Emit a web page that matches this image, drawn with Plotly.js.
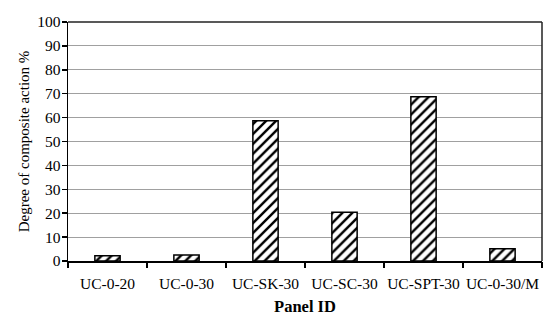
<!DOCTYPE html>
<html>
<head>
<meta charset="utf-8">
<script src="https://cdn.plot.ly/plotly-3.0.1.min.js"></script>
<style>html,body{margin:0;padding:0;background:#fff;}#chart{width:550px;height:320px;}</style>
</head>
<body>
<div id="chart"></div>
<script>
const categories = ["UC-0-20", "UC-0-30", "UC-SK-30", "UC-SC-30", "UC-SPT-30", "UC-0-30/M"];
const values = [2.2, 2.5, 58.7, 20.4, 68.7, 5.1];
const yTicks = [0, 10, 20, 30, 40, 50, 60, 70, 80, 90, 100];

const trace = {
  type: "bar",
  x: categories,
  y: values,
  width: 0.32,
  marker: {
    color: "#ffffff",
    line: {color: "#000000", width: 1.5},
    pattern: {shape: "/", fgcolor: "#000000", bgcolor: "#ffffff", size: 7, solidity: 0.35}
  },
  hoverinfo: "skip"
};

const layout = {
  width: 550, height: 320,
  margin: {l: 68, r: 8, t: 22, b: 59},
  paper_bgcolor: "#ffffff", plot_bgcolor: "#ffffff",
  font: {family: "'Liberation Serif', 'Times New Roman', serif", color: "#000000", size: 15},
  showlegend: false,
  xaxis: {
    type: "category",
    showline: true, linecolor: "#000000", linewidth: 1.5,
    ticks: "", showgrid: false,
    tickfont: {size: 15.5},
    ticklabelstandoff: 8,
    title: {text: "<b>Panel ID</b>", font: {size: 16.5}, standoff: 9},
    range: [-0.5, 5.5]
  },
  xaxis2: {
    overlaying: "x", matching: "x", type: "linear",
    range: [-0.5, 5.5], tickvals: [-0.5, 0.5, 1.5, 2.5, 3.5, 4.5, 5.5],
    ticks: "outside", ticklen: 6, tickwidth: 1.5, tickcolor: "#000000",
    showticklabels: false, showgrid: false, showline: false, zeroline: false,
    anchor: "y"
  },
  yaxis: {
    range: [0, 100], tickvals: yTicks,
    showline: true, linecolor: "#000000", linewidth: 1.5,
    ticks: "outside", ticklen: 5, tickwidth: 1.5, tickcolor: "#000000",
    showgrid: true, gridcolor: "#a0a0a0", gridwidth: 1,
    zeroline: false,
    tickfont: {size: 15.5},
    ticklabelstandoff: -2,
    title: {text: "Degree of composite action %", font: {size: 15}, standoff: 4}
  },
  shapes: [
    {type: "line", xref: "paper", yref: "paper", x0: 0, x1: 1, y0: 1, y1: 1, line: {color: "#222222", width: 1.5}},
    {type: "line", xref: "paper", yref: "paper", x0: 1, x1: 1, y0: 0, y1: 1, line: {color: "#222222", width: 1.5}}
  ]
};

const dummy = {type: "scatter", x: [0], y: [0], xaxis: "x2", yaxis: "y", mode: "markers", marker: {opacity: 0}, hoverinfo: "skip"};

Plotly.newPlot("chart", [trace, dummy], layout, {displayModeBar: false, staticPlot: true});
</script>
</body>
</html>
